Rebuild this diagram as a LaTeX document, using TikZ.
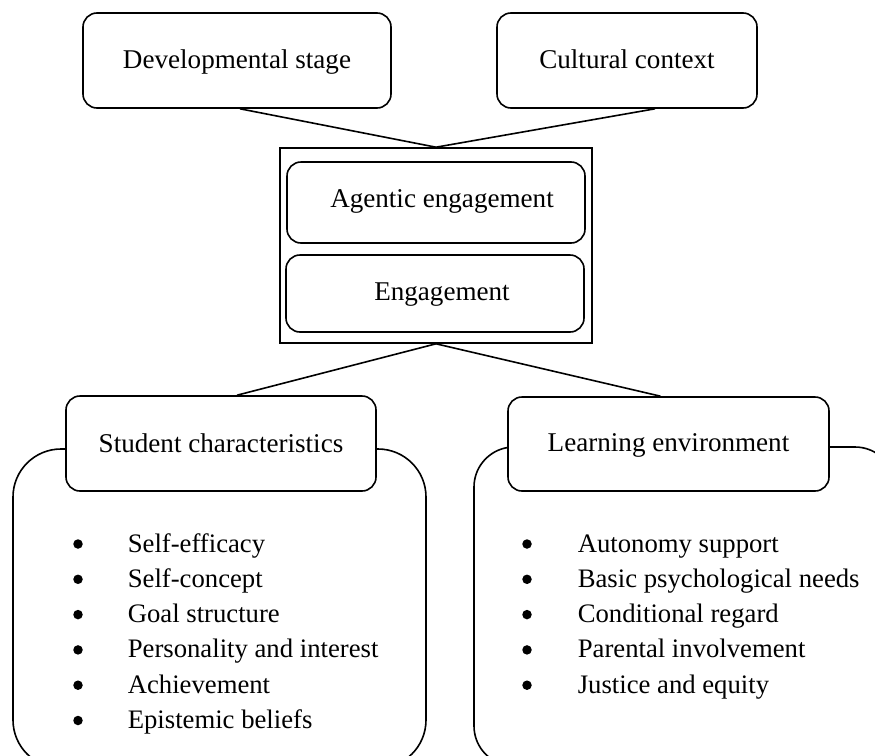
\documentclass[tikz,border=0pt]{standalone}
\usepackage{fontspec}
\setmainfont{Liberation Serif}
\begin{document}
\begin{tikzpicture}[x=1pt,y=-1pt, line width=1.6pt,
  htxt/.style={font=\fontsize{27.1}{31}\selectfont},
  ltxt/.style={font=\fontsize{26.7}{31}\selectfont},
  box/.style={draw, rounded corners=14pt, fill=white, inner sep=0pt, htxt, text height=19pt, text depth=4pt},
  frame/.style={draw, inner sep=0pt},
  bigbox/.style={draw, inner sep=0pt},
  item/.style={anchor=base west, inner sep=0pt, ltxt},
  bul/.style={circle, fill=black, draw=none, inner sep=0pt, minimum size=9.5pt},
  conn/.style={line width=1.6pt}]
\clip (0,0) rectangle (875,755);
% top boxes
\node[box, minimum width=308pt, minimum height=95pt] (dev) at (237,60.5) {Developmental stage};
\node[box, minimum width=260pt, minimum height=95pt] (cult) at (627,60.5) {Cultural context};
% central frame
\node[frame, minimum width=312pt, minimum height=195pt] (outer) at (436,245.5) {};
\node[box, minimum width=298pt, minimum height=81pt, text depth=10pt] (agentic) at (436,202.5) {\hspace*{12pt}Agentic engagement};
\node[box, minimum width=298pt, minimum height=77pt, text depth=6pt] (eng) at (435,293.5) {\hspace*{14pt}Engagement};
% big boxes
\node[bigbox, rounded corners=48pt, minimum width=413pt, minimum height=319pt] (stubig) at (219.5,608.5) {};
\node[bigbox, rounded corners=40pt, minimum width=421pt, minimum height=319pt] (learnbig) at (684.5,606.5) {};
% header boxes
\node[box, minimum width=310pt, minimum height=95pt, text depth=2pt] (stu) at (221,443.5) {Student characteristics};
\node[box, minimum width=321pt, minimum height=94pt, text depth=5pt] (learn) at (668.5,444) {Learning environment};
% connectors
\draw[conn] ([xshift=3pt]dev.south) -- (outer.north);
\draw[conn] ([xshift=28pt]cult.south) -- (outer.north);
\draw[conn] (outer.south) -- ([xshift=16pt]stu.north);
\draw[conn] (outer.south) -- ([xshift=-8pt]learn.north);
% lists
\foreach \t [count=\i] in {Self-efficacy,Self-concept,Goal structure,Personality and interest,Achievement,Epistemic beliefs}{
  \node[bul] (sb\i) at (78,{544+35.3*(\i-1)}) {};
  \node[item] (si\i) at (127,{552+35.3*(\i-1)}) {\t};
}
\foreach \t [count=\i] in {Autonomy support,Basic psychological needs,Conditional regard,Parental involvement,Justice and equity}{
  \node[bul] (lb\i) at (527,{544+35.3*(\i-1)}) {};
  \node[item] (li\i) at (577,{552+35.3*(\i-1)}) {\t};
}
\end{tikzpicture}
\end{document}
